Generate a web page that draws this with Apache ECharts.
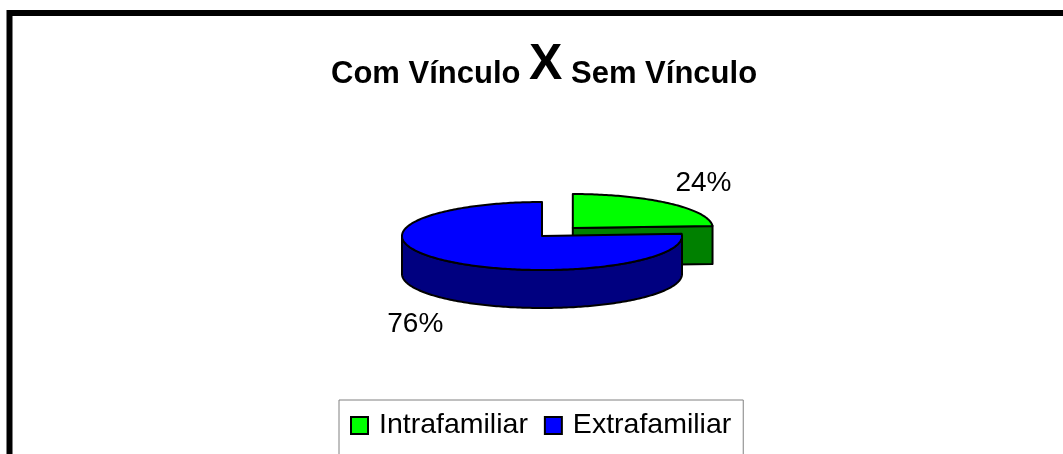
<!DOCTYPE html>
<html>
<head>
<meta charset="utf-8">
<script src="https://cdn.jsdelivr.net/npm/echarts@6/dist/echarts.min.js"></script>
<style>
html,body{margin:0;padding:0;background:#fff;}
#chart{width:1063px;height:454px;}
</style>
</head>
<body>
<div id="chart"></div>
<script>
// ---- data ----
const categories = ['Intrafamiliar', 'Extrafamiliar'];
const values = [24, 76];
const titleParts = ['Com Vínculo', 'X', 'Sem Vínculo'];

// ---- style / layout ----
const topColors = ['#00FF00', '#0000FF'];
const sideColors = ['#008000', '#000080'];
const explodeAmt = [45, 0];
const CX = 542, CY = 236, RX = 140, RY = 34, DEPTH = 38;
const FONT = '"Liberation Sans", Arial, sans-serif';

const total = values.reduce((a, b) => a + b, 0);

function pt(cx, cy, a, dy) {
  return [cx + RX * Math.sin(a), cy - RY * Math.cos(a) + (dy || 0)];
}
function arc(cx, cy, a0, a1, dy) {
  const pts = [];
  const n = Math.max(2, Math.ceil(Math.abs(a1 - a0) / (Math.PI / 180)));
  for (let k = 0; k <= n; k++) pts.push(pt(cx, cy, a0 + (a1 - a0) * k / n, dy));
  return pts;
}

function makeRender(i) {
  return function (params, api) {
    const v = api.value(0);
    let before = 0;
    for (let j = 0; j < i; j++) before += values[j];
    const a0 = before / total * Math.PI * 2;
    const a1 = (before + v) / total * Math.PI * 2;
    const mid = (a0 + a1) / 2;
    const e = explodeAmt[i];
    const cx = CX + Math.sin(mid) * e;
    const cy = CY - Math.cos(mid) * e * RY / RX;
    const stroke = { stroke: '#000', lineWidth: 2, lineJoin: 'round' };
    const children = [];
    const side = Object.assign({ fill: sideColors[i] }, stroke);
    // radial faces
    if (Math.sin(a1) > 1e-6) {
      const p = pt(cx, cy, a1);
      children.push({ type: 'polygon', shape: { points: [[cx, cy], p, [p[0], p[1] + DEPTH], [cx, cy + DEPTH]] }, style: side });
    }
    if (Math.sin(a0) < -1e-6) {
      const p = pt(cx, cy, a0);
      children.push({ type: 'polygon', shape: { points: [[cx, cy], p, [p[0], p[1] + DEPTH], [cx, cy + DEPTH]] }, style: side });
    }
    // outer wall (front half)
    const s = Math.max(a0, Math.PI / 2), t = Math.min(a1, Math.PI * 1.5);
    if (t > s) {
      const up = arc(cx, cy, s, t, 0);
      const down = arc(cx, cy, t, s, DEPTH);
      children.push({ type: 'polygon', shape: { points: up.concat(down) }, style: side });
    }
    // top face
    children.push({
      type: 'polygon',
      shape: { points: [[cx, cy]].concat(arc(cx, cy, a0, a1, 0)) },
      style: Object.assign({ fill: topColors[i] }, stroke)
    });
    // label
    const mp = pt(cx, cy, mid, Math.cos(mid) < 0 ? DEPTH : 0);
    children.push({
      type: 'text',
      style: {
        text: Math.round(v / total * 100) + '%',
        x: mp[0] + Math.sin(mid) * 48 + 2,
        y: mp[1] - Math.cos(mid) * 31 + 3,
        fill: '#000',
        font: '28px ' + FONT,
        align: 'center',
        verticalAlign: 'middle'
      }
    });
    return { type: 'group', children: children };
  };
}

const series = categories.map((name, i) => {
  const mid = (values.slice(0, i).reduce((a, b) => a + b, 0) + values[i] / 2) / total * Math.PI * 2;
  return {
    type: 'custom',
    name: name,
    coordinateSystem: 'none',
    data: [values[i]],
    itemStyle: { color: topColors[i], borderColor: '#000', borderWidth: 1.5 },
    z: 2 + (1 - Math.cos(mid)),
    renderItem: makeRender(i),
    silent: true
  };
});

const chart = echarts.init(document.getElementById('chart'), null, { renderer: 'canvas' });
chart.setOption({
  backgroundColor: '#fff',
  animation: false,
  title: {
    text: '{a|' + titleParts[0] + ' }{b|' + titleParts[1] + '}{a| ' + titleParts[2] + '}',
    left: 326,
    top: 35,
    textStyle: {
      rich: {
        a: { fontFamily: FONT, fontWeight: 'bold', fontSize: 31, color: '#000', verticalAlign: 'bottom' },
        b: { fontFamily: FONT, fontWeight: 'bold', fontSize: 50, color: '#000', verticalAlign: 'bottom' }
      }
    }
  },
  legend: {
    left: 339,
    top: 400,
    orient: 'horizontal',
    itemWidth: 17,
    itemHeight: 17,
    itemGap: 16,
    padding: [11, 12, 30, 11],
    borderColor: '#808080',
    borderWidth: 1,
    icon: 'rect',
    textStyle: { fontFamily: FONT, fontSize: 28.5, color: '#000', padding: [0, 0, 0, 6] },
    data: categories
  },
  graphic: [{
    type: 'rect',
    shape: { x: 9.5, y: 13, width: 1200, height: 600 },
    style: { fill: 'none', stroke: '#000', lineWidth: 6 },
    z: 100,
    silent: true
  }],
  series: series
});
</script>
</body>
</html>
